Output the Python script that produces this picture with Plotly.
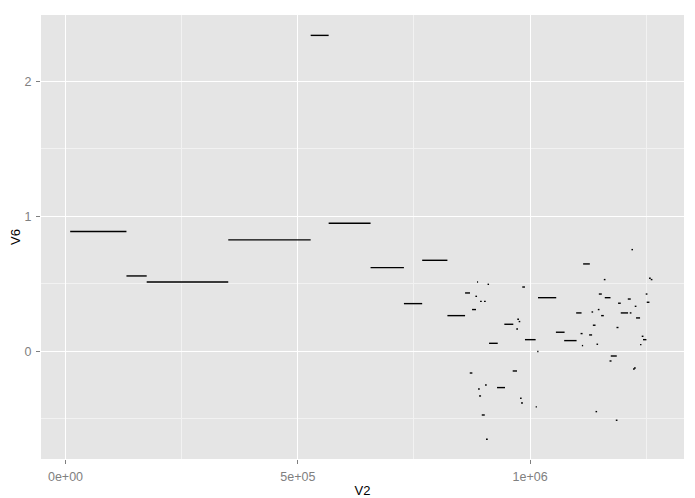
import plotly.graph_objects as go

# segment start (V2), segment end, value (V6)
seg_start = [10100, 131200, 174800, 350300, 527700, 566400, 656600, 728400, 767700, 822000,
             860000, 875000, 870100, 882200, 885800, 888000, 890100, 892300, 895900, 900800,
             903000, 905100, 908400, 911600, 928800, 944500, 962500, 970200, 972400, 975400,
             978200, 980300, 983100, 988900, 1011900, 1015300, 1016900, 1055500, 1073300, 1099100,
             1108600, 1111400, 1114100, 1127000, 1132200, 1135000, 1140800, 1142900, 1145700, 1147900,
             1152800, 1158600, 1160700, 1170900, 1173600, 1184400, 1185900, 1189300, 1195100, 1210200,
             1214500, 1218100, 1221500, 1223700, 1225200, 1228000, 1236600, 1240200, 1243000, 1248800,
             1251000, 1256000, 1259600]
seg_end = [131200, 174800, 350300, 527700, 566400, 656600, 728400, 767700, 822000, 860000,
           870700, 883600, 875700, 885800, 888000, 891600, 894400, 895900, 902400, 904500,
           906600, 908800, 911600, 930300, 946000, 963800, 971800, 973900, 976000, 978800,
           981800, 984600, 988900, 1011900, 1014700, 1018000, 1056200, 1074200, 1100000, 1110700,
           1112900, 1114100, 1128500, 1133400, 1135600, 1140800, 1144200, 1146300, 1149300, 1154300,
           1158600, 1162200, 1173000, 1175200, 1186500, 1188000, 1190200, 1195100, 1210800, 1216600,
           1218100, 1221500, 1225200, 1227300, 1228800, 1236600, 1239600, 1243900, 1250300, 1252500,
           1256800, 1259600, 1263200]
seg_value = [0.887, 0.558, 0.513, 0.825, 2.34, 0.948, 0.62, 0.353, 0.674, 0.264,
             0.432, 0.309, -0.161, 0.407, 0.513, -0.279, -0.331, 0.37, -0.472, 0.37,
             -0.25, -0.652, 0.496, 0.059, -0.269, 0.2, -0.146, 0.165, 0.237, 0.22,
             -0.348, -0.383, 0.476, 0.086, -0.412, -0.002, 0.397, 0.141, 0.079, 0.284,
             0.131, 0.042, 0.647, 0.121, 0.291, 0.193, -0.447, 0.052, 0.309, 0.424,
             0.264, 0.531, 0.397, -0.072, -0.035, -0.511, 0.176, 0.356, 0.284, 0.387,
             0.284, 0.753, -0.131, -0.124, 0.333, 0.247, 0.049, 0.111, 0.086, 0.424,
             0.363, 0.541, 0.531]

x_ticks = [0, 500000, 1000000]
x_tick_labels = ["0e+00", "5e+05", "1e+06"]
y_ticks = [0, 1, 2]
y_tick_labels = ["0", "1", "2"]

xs, ys = [], []
for a, b, v in zip(seg_start, seg_end, seg_value):
    xs += [a, b, None]
    ys += [v, v, None]

fig = go.Figure(go.Scatter(x=xs, y=ys, mode="lines",
                           line=dict(color="black", width=1.4),
                           hoverinfo="skip", showlegend=False))

font = "Liberation Sans, Arial, sans-serif"
axis_common = dict(
    showline=False, zeroline=False, showgrid=True, gridcolor="white", gridwidth=1.1,
    ticks="outside", ticklen=4, tickcolor="#7F7F7F", tickwidth=1, automargin=False,
    tickfont=dict(family=font, size=12.5, color="#808080"), ticklabelstandoff=2,
    title_font=dict(family=font, size=13, color="black"),
)
fig.update_xaxes(range=[-52700, 1331200], tickmode="array", tickvals=x_ticks,
                 ticktext=x_tick_labels, title_text="V2", title_standoff=2,
                 minor=dict(tickmode="linear", tick0=250000, dtick=500000, showgrid=True,
                            gridcolor="#F2F2F2", gridwidth=0.6, ticks=""),
                 **axis_common)
fig.update_yaxes(range=[-0.798, 2.491], tickmode="array", tickvals=y_ticks,
                 ticktext=y_tick_labels, title_text="V6", title_standoff=6,
                 minor=dict(tickmode="linear", tick0=0.5, dtick=1, showgrid=True,
                            gridcolor="#F2F2F2", gridwidth=0.6, ticks=""),
                 **axis_common)
# page body has an 8px default margin, so the figure is 8px smaller
fig.update_layout(width=687, height=490, paper_bgcolor="white", plot_bgcolor="#E5E5E5",
                  margin=dict(l=33, r=11, t=7, b=39), showlegend=False)
fig.write_html("out.html")
